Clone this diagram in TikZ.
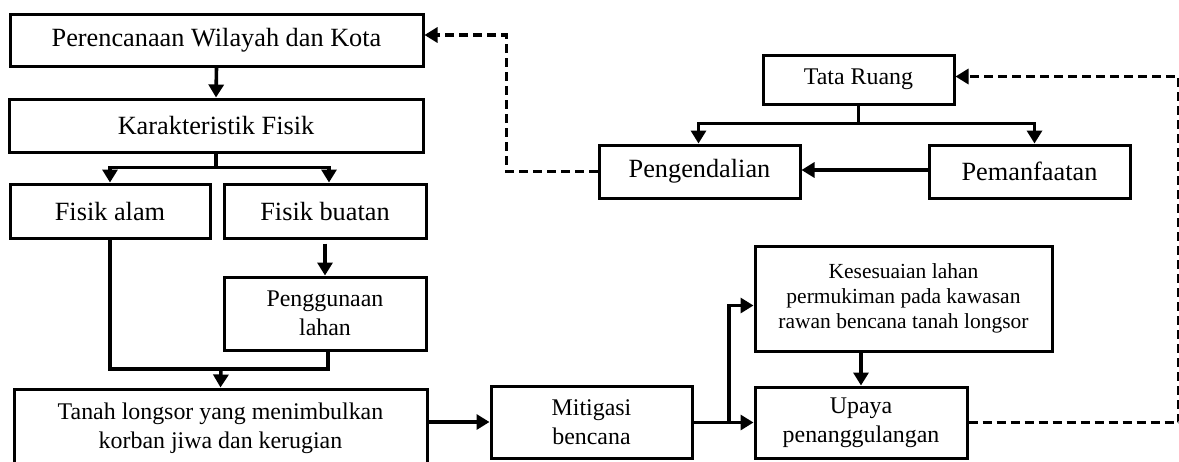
\documentclass[tikz,border=0pt]{standalone}
\usepackage{fontspec}
\setmainfont{Liberation Serif}
\usepackage{tikz}
\usetikzlibrary{arrows.meta,positioning,calc}

\begin{document}
\begin{tikzpicture}[x=1pt,y=-1pt,
  box/.style={draw,line width=3pt,align=center,inner sep=0pt},
  big/.style={font=\fontsize{26.3}{31}\selectfont},
  mid/.style={font=\fontsize{23.9}{29}\selectfont},
  small/.style={font=\fontsize{21.5}{25}\selectfont},
  lin/.style={line width=3.6pt},
  arr/.style={-{Triangle[length=13pt,width=15pt]},line width=3.6pt},
  darr/.style={arr,line width=3.2pt,dash pattern=on 9pt off 5pt}
]
\clip (0,0) rectangle (1179,461);
% left column
\node[box,big,minimum width=413pt,minimum height=52pt] (plan) at (216.5,40) {Perencanaan Wilayah dan Kota};
\node[box,big,minimum width=414pt,minimum height=53pt] (karak) at (216,125.5) {Karakteristik Fisik};
\node[box,big,minimum width=200pt,minimum height=54pt] (alam) at (110,211) {Fisik alam};
\node[box,big,minimum width=202pt,minimum height=54pt] (buatan) at (325,211) {Fisik buatan};
\node[box,mid,minimum width=202pt,minimum height=73pt] (guna) at (325,313.5) {Penggunaan\\lahan};
\node[box,mid,minimum width=413pt,minimum height=78pt] (longsor) at (220.5,428) {Tanah longsor yang menimbulkan\\korban jiwa dan kerugian};
% right part
\node[box,mid,minimum width=201pt,minimum height=72pt] (mitigasi) at (591.5,422) {Mitigasi\\bencana};
\node[box,small,minimum width=297pt,minimum height=105pt] (sesuai) at (903.5,298.5) {Kesesuaian lahan\\permukiman pada kawasan\\rawan bencana tanah longsor};
\node[box,mid,minimum width=212pt,minimum height=71pt] (upaya) at (861,422.5) {Upaya\\penanggulangan};
\node[box,mid,minimum width=191pt,minimum height=49pt] (tata) at (858.5,79.5) {Tata Ruang};
\node[box,big,minimum width=201pt,minimum height=53pt] (kendali) at (699.5,171.5) {Pengendalian};
\node[box,big,minimum width=201pt,minimum height=53pt] (manfaat) at (1029.5,171.5) {Pemanfaatan};

\coordinate (mrg) at (221,369);
\coordinate (cab) at (729,422.5);

\draw[arr] (plan.south) -- (karak.north);
\draw[lin] (karak.south) -- ++(0,14) coordinate (kb);
\draw[arr] (kb) -| (alam.north);
\draw[arr] (kb) -| ([xshift=4pt]buatan.north);
\draw[arr] ([yshift=-4pt]buatan.south) -- (guna.north);
\draw[lin] (alam.south) |- (mrg) -| ([xshift=3pt]guna.south);
\draw[arr] (mrg) -- (longsor.north);
\draw[arr] (longsor.east |- mitigasi) -- (mitigasi.west);
\draw[arr] (mitigasi.east |- upaya) -- (upaya.west);
\draw[arr] (cab) |- ([yshift=-7pt]sesuai.west);
\draw[arr] (sesuai.south -| upaya.north) -- (upaya.north);
\draw[lin] (tata.south) -- ++(0,18) coordinate (tb);
\draw[arr] (tb) -| ([xshift=-1pt]kendali.north);
\draw[arr] (tb) -| ([xshift=5pt]manfaat.north);
\draw[arr] (manfaat.west |- 0,170) -- (kendali.east |- 0,170);
% dashed feedback
\draw[darr] (upaya.east) -- ++(210,0) |- ([yshift=3pt]tata.east);
\draw[darr] (kendali.west) -- ++(-91,0) |- ([yshift=5pt]plan.east);
\end{tikzpicture}
\end{document}
